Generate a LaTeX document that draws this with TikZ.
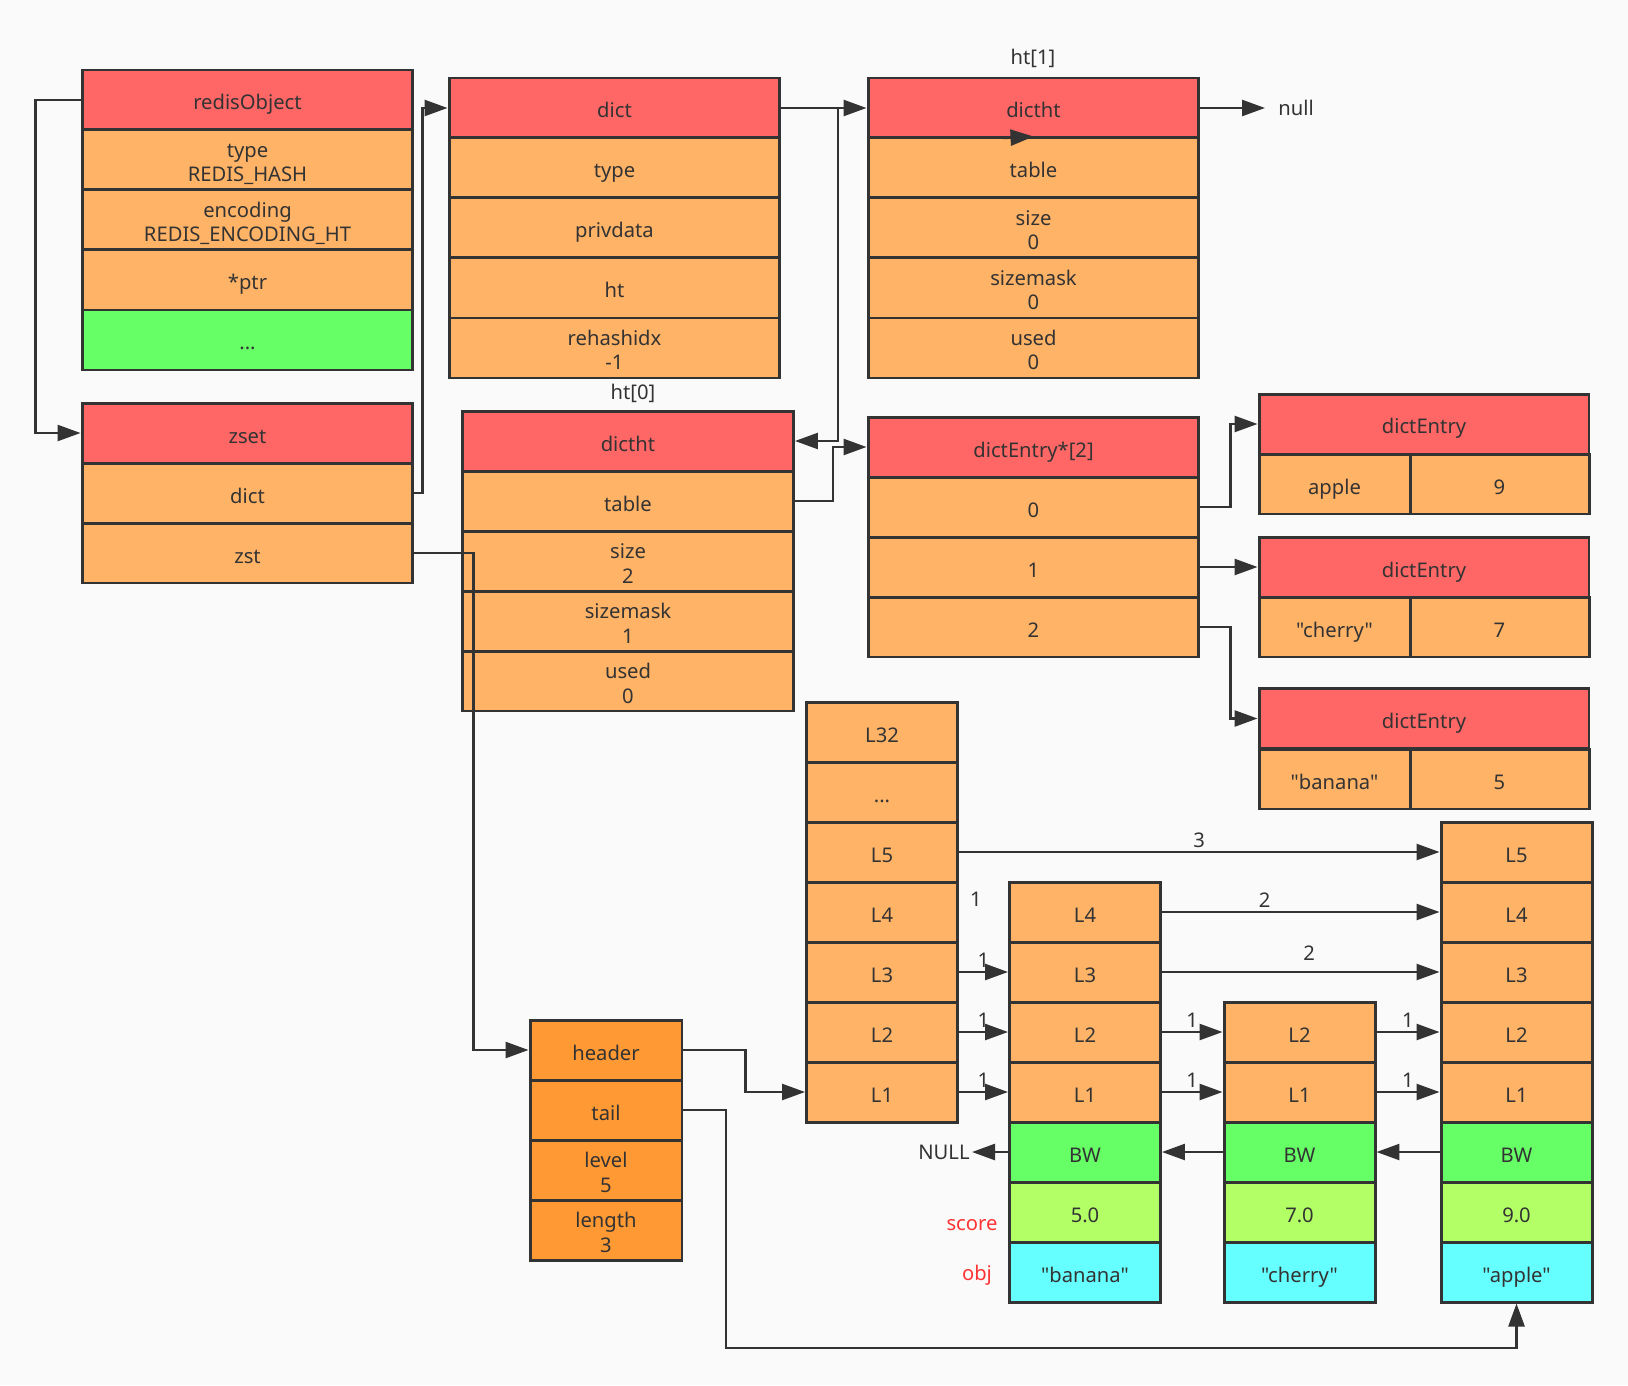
\documentclass[tikz,border=0pt]{standalone}
\usepackage{fontspec}
\setmainfont{Noto Sans}[Ligatures=TeXOff]
\usepackage{tikz}
\usetikzlibrary{arrows.meta}
\definecolor{RSBack}{HTML}{FAFAFA}
\definecolor{RSLine}{HTML}{333333}
\definecolor{RSRed}{HTML}{FF6666}
\definecolor{RSOrange}{HTML}{FFB366}
\definecolor{RSDeep}{HTML}{FF9933}
\definecolor{RSGreen}{HTML}{66FF66}
\definecolor{RSLime}{HTML}{B3FF66}
\definecolor{RSCyan}{HTML}{66FFFF}
\definecolor{RSLabel}{HTML}{FF3333}
\tikzset{
  cell/.style={draw=RSLine, line width=1.7pt, minimum height=1.2cm, inner sep=0pt, align=center, text=RSLine,
    font=\fontsize{11.5}{14.2}\selectfont, execute at begin node={\rule[-0.12cm]{0pt}{0.64cm}}},
  two/.style={execute at begin node={\rule[-0.12cm]{0pt}{1.12cm}}},
  wide/.style={cell, minimum width=6.62cm},
  col/.style={cell, minimum width=3.02cm},
  link/.style={draw=RSLine, line width=1.4pt, -{Triangle[length=0.46cm,width=0.32cm]}},
  plain/.style={text=RSLine, font=\fontsize{11.5}{13}\selectfont},
  hop/.style={plain, above, inner sep=2pt}
}

\begin{document}
\begin{tikzpicture}[x=0.02cm,y=-0.02cm]
\path[use as bounding box, fill=RSBack] (0,0) rectangle (1628,1385);
% redisObject
\node[wide, fill=RSRed] (ro-h) at (247.5,100) {redisObject};
\node[wide, two, fill=RSOrange] (ro-t) at (247.5,160) {type\\REDIS\_HASH};
\node[wide, two, fill=RSOrange] (ro-e) at (247.5,220) {encoding\\REDIS\_ENCODING\_HT};
\node[wide, fill=RSOrange] (ro-p) at (247.5,280) {*ptr};
\node[wide, fill=RSGreen] (ro-x) at (247.5,340) {...};
% zset
\node[wide, fill=RSRed] (zs-h) at (247.5,433) {zset};
\node[wide, fill=RSOrange] (zs-d) at (247.5,493) {dict};
\node[wide, fill=RSOrange] (zs-z) at (247.5,553) {zst};
% dict
\node[wide, fill=RSRed] (dc-h) at (614.5,108) {dict};
\node[wide, fill=RSOrange] (dc-t) at (614.5,168) {type};
\node[wide, fill=RSOrange] (dc-p) at (614.5,228) {privdata};
\node[wide, fill=RSOrange] (dc-ht) at (614.5,288) {ht};
\node[wide, two, fill=RSOrange] (dc-r) at (614.5,348) {rehashidx\\-1};
% ht[0]
\node[plain] (ht0) at (633,393) {ht[0]};
\node[wide, fill=RSRed] (h0-h) at (628,441) {dictht};
\node[wide, fill=RSOrange] (h0-t) at (628,501) {table};
\node[wide, two, fill=RSOrange] (h0-s) at (628,561) {size\\2};
\node[wide, two, fill=RSOrange] (h0-m) at (628,621) {sizemask\\1};
\node[wide, two, fill=RSOrange] (h0-u) at (628,681) {used\\0};
% ht[1]
\node[plain] (ht1) at (1033,58) {ht[1]};
\node[wide, fill=RSRed] (h1-h) at (1033.5,108) {dictht};
\node[wide, fill=RSOrange] (h1-t) at (1033.5,168) {table};
\node[wide, two, fill=RSOrange] (h1-s) at (1033.5,228) {size\\0};
\node[wide, two, fill=RSOrange] (h1-m) at (1033.5,288) {sizemask\\0};
\node[wide, two, fill=RSOrange] (h1-u) at (1033.5,348) {used\\0};
\node[plain, anchor=west, inner sep=0.26cm] (nl) at (1265,108) {null};
% dictEntry*[2]
\node[wide, fill=RSRed] (de-h) at (1033.5,447) {dictEntry*[2]};
\node[wide, fill=RSOrange] (de-0) at (1033.5,507) {0};
\node[wide, fill=RSOrange] (de-1) at (1033.5,567) {1};
\node[wide, fill=RSOrange] (de-2) at (1033.5,627) {2};
% dictEntry
\node[cell, minimum width=6.6cm, fill=RSRed] (e1-h) at (1424,424) {dictEntry};
\node[col, fill=RSOrange] (e1-k) at (1334.5,484) {apple};
\node[cell, minimum width=3.58cm, fill=RSOrange] (e1-v) at (1499.5,484) {9};
\node[cell, minimum width=6.6cm, fill=RSRed] (e2-h) at (1424,567) {dictEntry};
\node[col, fill=RSOrange] (e2-k) at (1334.5,627) {"cherry"};
\node[cell, minimum width=3.58cm, fill=RSOrange] (e2-v) at (1499.5,627) {7};
\node[cell, minimum width=6.6cm, fill=RSRed] (e3-h) at (1424,718.5) {dictEntry};
\node[col, fill=RSOrange] (e3-k) at (1334.5,779) {"banana"};
\node[cell, minimum width=3.58cm, fill=RSOrange] (e3-v) at (1499.5,779) {5};
% zskiplist
\node[cell, minimum width=3.04cm, fill=RSDeep] (zl-hd) at (606,1050) {header};
\node[cell, minimum width=3.04cm, fill=RSDeep] (zl-tl) at (606,1110) {tail};
\node[cell, two, minimum width=3.04cm, fill=RSDeep] (zl-lv) at (606,1170) {level\\5};
\node[cell, two, minimum width=3.04cm, fill=RSDeep] (zl-ln) at (606,1230) {length\\3};
% header levels
\node[col, fill=RSOrange] (sh-32) at (882,732) {L32};
\node[col, fill=RSOrange] (sh-x) at (882,792) {...};
\node[col, fill=RSOrange] (sh-5) at (882,852) {L5};
\node[col, fill=RSOrange] (sh-4) at (882,912) {L4};
\node[col, fill=RSOrange] (sh-3) at (882,972) {L3};
\node[col, fill=RSOrange] (sh-2) at (882,1032) {L2};
\node[col, fill=RSOrange] (sh-1) at (882,1092) {L1};
% banana
\node[col, fill=RSOrange] (ba-4) at (1085,912) {L4};
\node[col, fill=RSOrange] (ba-3) at (1085,972) {L3};
\node[col, fill=RSOrange] (ba-2) at (1085,1032) {L2};
\node[col, fill=RSOrange] (ba-1) at (1085,1092) {L1};
\node[col, fill=RSGreen] (ba-b) at (1085,1152) {BW};
\node[col, fill=RSLime] (ba-s) at (1085,1212) {5.0};
\node[col, fill=RSCyan] (ba-o) at (1085,1272) {"banana"};
% cherry
\node[col, fill=RSOrange] (ch-2) at (1299.5,1032) {L2};
\node[col, fill=RSOrange] (ch-1) at (1299.5,1092) {L1};
\node[col, fill=RSGreen] (ch-b) at (1299.5,1152) {BW};
\node[col, fill=RSLime] (ch-s) at (1299.5,1212) {7.0};
\node[col, fill=RSCyan] (ch-o) at (1299.5,1272) {"cherry"};
% apple
\node[col, fill=RSOrange] (ap-5) at (1516.5,852) {L5};
\node[col, fill=RSOrange] (ap-4) at (1516.5,912) {L4};
\node[col, fill=RSOrange] (ap-3) at (1516.5,972) {L3};
\node[col, fill=RSOrange] (ap-2) at (1516.5,1032) {L2};
\node[col, fill=RSOrange] (ap-1) at (1516.5,1092) {L1};
\node[col, fill=RSGreen] (ap-b) at (1516.5,1152) {BW};
\node[col, fill=RSLime] (ap-s) at (1516.5,1212) {9.0};
\node[col, fill=RSCyan] (ap-o) at (1516.5,1272) {"apple"};
\node[plain, anchor=east, inner sep=0.04cm] (nul) at (972,1152) {NULL};
\node[plain, text=RSLabel] (sc) at (972,1225) {score};
\node[plain, text=RSLabel] (ob) at (977,1275) {obj};
\node[plain] (l4h) at (976,899) {1};
% pointers
\draw[link] (ro-h.west) -- ++(-45,0) |- (zs-h.west);
\draw[link] (zs-d.east) -- ++(8,0) |- (dc-h.west);
\draw[link] (dc-h.east) -- (h1-h.west);
\coordinate (jn) at (838,108);
\draw[link] (jn) |- (h0-h.east);
\draw[link] (1003,138) -- (h1-t.north);
\draw[link] (h1-h.east) -- (nl.west);
\draw[link] (h0-t.east) -- ++(38,0) |- (de-h.west);
\draw[link] (de-0.east) -- ++(30,0) |- (e1-h.west);
\draw[link] (de-1.east) -- (e2-h.west);
\draw[link] (de-2.east) -- ++(30,0) |- (e3-h.west);
\draw[link] (zs-z.east) -- ++(59,0) |- (zl-hd.west);
\draw[link] (zl-hd.east) -- ++(62,0) |- (sh-1.west);
\coordinate (tl-bend) at (726,1348);
\draw[link] (zl-tl.east) -| (tl-bend) -| (ap-o.south);
% forward levels
\draw[link] (sh-5.east) -- node[hop]{3} (ap-5.west);
\draw[link] (sh-3.east) -- node[hop]{1} (ba-3.west);
\draw[link] (sh-2.east) -- node[hop]{1} (ba-2.west);
\draw[link] (sh-1.east) -- node[hop]{1} (ba-1.west);
\draw[link] (ba-4.east) -- node[hop, pos=0.37]{2} (ap-4.west);
\draw[link] (ba-3.east) -- node[hop, pos=0.53, yshift=0.14cm]{2} (ap-3.west);
\draw[link] (ba-2.east) -- node[hop]{1} (ch-2.west);
\draw[link] (ba-1.east) -- node[hop]{1} (ch-1.west);
\draw[link] (ch-2.east) -- node[hop]{1} (ap-2.west);
\draw[link] (ch-1.east) -- node[hop]{1} (ap-1.west);
% backward
\draw[link] (ap-b.west) -- (ch-b.east);
\draw[link] (ch-b.west) -- (ba-b.east);
\draw[link] (ba-b.west) -- (nul.east);
\end{tikzpicture}
\end{document}
